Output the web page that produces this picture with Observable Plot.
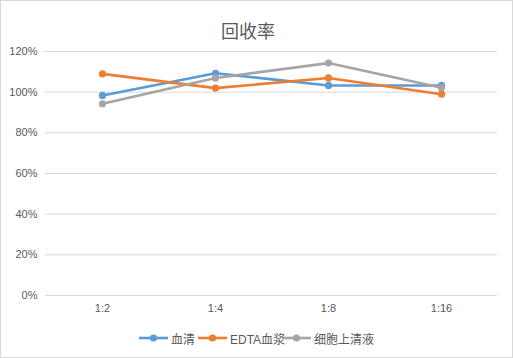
<!DOCTYPE html>
<html><head><meta charset="utf-8">
<script src="https://cdn.jsdelivr.net/npm/d3@7"></script>
<script src="https://cdn.jsdelivr.net/npm/@observablehq/plot@0.6"></script>
<style>
body{margin:0;background:#fff;font-family:"Liberation Sans","Noto Sans CJK SC",sans-serif;}
#chart{position:relative;width:511px;height:356px;border:1px solid #d9d9d9;background:#fff;overflow:hidden;}
#title{height:40px;line-height:1;font-size:18px;color:#595959;font-family:"Noto Sans CJK SC",sans-serif;position:relative;}
#title span{position:absolute;left:247px;top:20px;transform:translateX(-50%);white-space:nowrap;}
#legend{position:absolute;left:0;top:326px;width:511px;height:22px;font-size:12px;color:#595959;font-family:"Liberation Sans","Noto Sans CJK SC",sans-serif;}
.item{position:absolute;top:0;display:flex;align-items:center;height:22px;white-space:nowrap;}
.item svg{margin-right:3px;}
</style></head>
<body>
<div id="chart"><div id="title"><span>回收率</span></div><div id="plot"></div><div id="legend"></div></div>
<script>
const categories = ["1:2", "1:4", "1:8", "1:16"];
const seriesNames = ["血清", "EDTA血浆", "细胞上清液"];
const serum = [0.984, 1.093, 1.033, 1.033];
const edta = [1.09, 1.02, 1.07, 0.99];
const supernatant = [0.943, 1.07, 1.143, 1.022];
const yTicks = [0, 0.2, 0.4, 0.6, 0.8, 1.0, 1.2];
const colors = ["#5b9bd5", "#ed7d31", "#a5a5a5"];

const seriesValues = [serum, edta, supernatant];
const data = [];
seriesNames.forEach((s, i) => categories.forEach((c, j) => data.push({series: s, cat: c, value: seriesValues[i][j]})));

const chart = Plot.plot({
  width: 511, height: 280,
  marginLeft: 44, marginRight: 15, marginTop: 10, marginBottom: 26,
  style: {fontFamily: "Liberation Sans, sans-serif", fontSize: "11px", color: "#595959", background: "transparent"},
  x: {type: "point", domain: categories, padding: 0.5, label: null},
  y: {domain: [0, 1.2], label: null},
  color: {domain: seriesNames, range: colors},
  marks: [
    Plot.ruleY(yTicks, {stroke: "#d9d9d9", strokeWidth: 1}),
    Plot.axisY(yTicks, {tickFormat: d => Math.round(d * 100) + "%", tickSize: 0, tickPadding: 8, label: null, fill: "#595959"}),
    Plot.axisX({tickSize: 0, tickPadding: 9, label: null, fill: "#595959"}),
    Plot.line(data, {x: "cat", y: "value", z: "series", stroke: "series", strokeWidth: 2.6, curve: "linear"}),
    Plot.dot(data, {x: "cat", y: "value", fill: "series", r: 3.6, stroke: "none"})
  ]
});
document.getElementById("plot").appendChild(chart);

const legend = document.getElementById("legend");
const legendX = [138, 197, 281];
seriesNames.forEach((s, i) => {
  const d = document.createElement("div");
  d.className = "item";
  d.style.left = legendX[i] + "px";
  d.innerHTML = `<svg width="29" height="10"><line x1="0" y1="5" x2="29" y2="5" stroke="${colors[i]}" stroke-width="2.6"/><circle cx="14.5" cy="5" r="3.6" fill="${colors[i]}"/></svg><span>${s}</span>`;
  legend.appendChild(d);
});
</script>
</body></html>
